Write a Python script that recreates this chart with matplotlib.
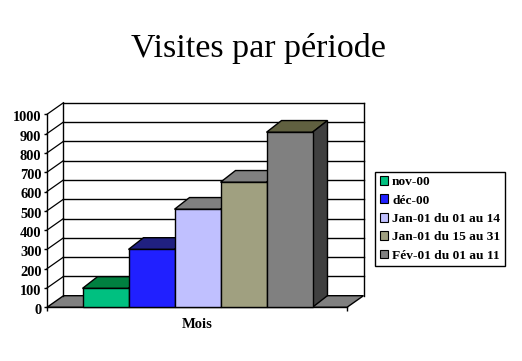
import matplotlib
matplotlib.use("Agg")
import matplotlib.pyplot as plt
from matplotlib.patches import Polygon, Patch
from matplotlib.transforms import ScaledTranslation

plt.rcParams['font.family'] = ['Liberation Serif', 'DejaVu Serif']

title = "Visites par période"
xlabel = "Mois"
series = ["nov-00", "déc-00", "Jan-01 du 01 au 14", "Jan-01 du 15 au 31", "Fév-01 du 01 au 11"]
values = [98, 300, 508, 648, 907]
yticks = list(range(0, 1001, 100))
front = ["#00C080", "#2020FF", "#C0C0FF", "#A0A080", "#808080"]
tops = ["#008040", "#202080", "#808080", "#808080", "#606040"]
sides = ["#006040", "#101060", "#606080", "#505040", "#404040"]

W, H, DPI = 522, 361, 100
fig = plt.figure(figsize=(W / DPI, H / DPI), dpi=DPI, facecolor="white")

# Front plane of the 3-D chart, in pixels
L, R, B, T = 47.0, 347.0, 307.3, 114.3
ax = fig.add_axes([L / W, 1 - B / H, (R - L) / W, (B - T) / H])
ax.patch.set_visible(False)
for s in ["top", "right"]:
    ax.spines[s].set_visible(False)
ax.spines["left"].set_linewidth(1.0)
ax.spines["bottom"].set_linewidth(1.0)
ax.spines["left"].set_zorder(1)
ax.spines["bottom"].set_zorder(1)

BAR_PX = 46.0
X0 = 82.5
ax.set_xlim((L - X0) / BAR_PX - 0.5, (R - X0) / BAR_PX - 0.5)
ax.set_ylim(0, 1000)
xmin, xmax = ax.get_xlim()


def shift(dx_px, dy_px):
    return ax.transData + ScaledTranslation(dx_px / DPI, dy_px / DPI, fig.dpi_scale_trans)


wall = shift(16.5, 11.6)
wall_dx = 16.5 / BAR_PX
wall_dy = 11.6 * 1000 / (B - T)

# Floor
ax.add_patch(Polygon([(xmin, 0), (xmax, 0), (xmax + wall_dx, wall_dy), (xmin + wall_dx, wall_dy)],
                     closed=True, facecolor="#808080", edgecolor="black", lw=1.0, zorder=1, clip_on=False))

# Back wall gridlines, frame and left wall diagonals
for v in yticks[1:]:
    ax.plot([xmin, xmax], [v, v], transform=wall, color="black", lw=1.0, zorder=1, clip_on=False)
    ax.plot([xmin, xmin + wall_dx], [v, v + wall_dy], color="black", lw=0.9, zorder=1, clip_on=False)
ax.plot([xmin, xmin], [0, 1000], transform=wall, color="black", lw=1.0, zorder=1, clip_on=False)
ax.plot([xmax, xmax], [0, 1000], transform=wall, color="black", lw=1.0, zorder=1, clip_on=False)

# Bars
dx = 15.0 / BAR_PX
dy = 11.7 * 1000 / (B - T)
for i, v in enumerate(values):
    z = 3 + i
    ax.bar(i, v, width=1.0, color=front[i], edgecolor="black", lw=1.0, zorder=z + 0.2, clip_on=False)
    ax.add_patch(Polygon([(i - 0.5, v), (i + 0.5, v), (i + 0.5 + dx, v + dy), (i - 0.5 + dx, v + dy)],
                         closed=True, facecolor=tops[i], edgecolor="black", lw=1.0, zorder=z, clip_on=False))
    ax.add_patch(Polygon([(i + 0.5, 0), (i + 0.5, v), (i + 0.5 + dx, v + dy), (i + 0.5 + dx, dy)],
                         closed=True, facecolor=sides[i], edgecolor="black", lw=1.0, zorder=z, clip_on=False))

ax.set_yticks(yticks)
ax.set_yticklabels([str(v) for v in yticks], fontsize=10.4, fontweight="bold")
ax.tick_params(axis="y", length=2.5, width=1.0, pad=1.5)
label_shift = ScaledTranslation(0, -2 / DPI, fig.dpi_scale_trans)
for lab in ax.get_yticklabels():
    lab.set_transform(lab.get_transform() + label_shift)
ax.set_xticks([xmin, xmax])
ax.set_xticklabels(["", ""])
ax.tick_params(axis="x", length=3, width=1.0)

fig.text(197.5 / W, 1 - 324.5 / H, xlabel, fontsize=10.5, fontweight="bold", ha="center", va="center")
fig.text(258 / W, 1 - 49 / H, title, fontsize=24.5, ha="center", va="center")

# Legend
handles = [Patch(facecolor=c, edgecolor="black", lw=0.8) for c in front]
leg = fig.legend(handles, series, loc="upper left", bbox_to_anchor=(375.3 / W, 1 - 171.7 / H),
                 fancybox=False, framealpha=1, edgecolor="black", borderaxespad=0,
                 prop={"family": "Liberation Serif", "weight": "bold", "size": 9.65},
                 handlelength=0.62, handleheight=0.62, handletextpad=0.3,
                 labelspacing=0.47, borderpad=0.33)
leg.get_frame().set_linewidth(1.0)

fig.savefig("out.png", dpi=DPI)
